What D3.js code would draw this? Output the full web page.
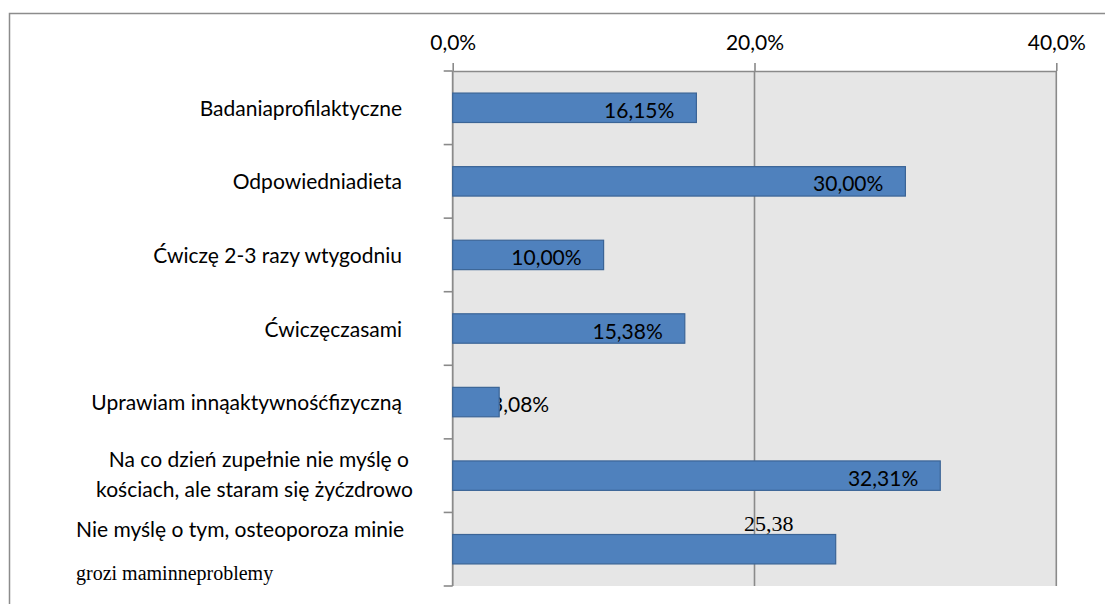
<!DOCTYPE html>
<html>
<head>
<meta charset="utf-8">
<script src="https://cdn.jsdelivr.net/npm/d3@7"></script>
<style>
  body { margin: 0; background: #fff; }
  svg { display: block; }
</style>
</head>
<body>
<svg id="chart" width="1105" height="604"></svg>
<script>
// Survey answers: what respondents do for their bone health (share of answers, %)
const categories = [
  "Badaniaprofilaktyczne",
  "Odpowiedniadieta",
  "Ćwiczę 2-3 razy wtygodniu",
  "Ćwiczęczasami",
  "Uprawiam innąaktywnośćfizyczną",
  "Na co dzień zupełnie nie myślę o\nkościach, ale staram się żyćzdrowo",
  "Nie myślę o tym, osteoporoza minie\ngrozi maminneproblemy"
];
const values = [16.15, 30.00, 10.00, 15.38, 3.08, 32.31, 25.38];
const axisTicks = [0, 20, 40];

const svg = d3.select("#chart");
const SANS = "Lato, 'Open Sans', sans-serif";
const SERIF = "'Liberation Serif', 'DejaVu Serif', serif";
const FS = 21;

const plot = { left: 452.7, right: 1056.3, top: 71, bottom: 586 };

const x = d3.scaleLinear().domain([0, 40]).range([plot.left, plot.right]);
const y = d3.scaleBand()
  .domain(d3.range(categories.length))
  .range([plot.top, plot.bottom])
  .paddingInner(0.6)
  .paddingOuter(0.3);

const comma = d3.formatLocale({ decimal: ",", thousands: " ", grouping: [3], currency: ["", " zł"] });
const pct2 = v => comma.format(".2f")(v) + "%";
const pct1 = v => comma.format(".1f")(v) + "%";

// outer chart frame (left and top edges fall inside the page)
svg.append("path")
  .attr("d", "M9.5,604 V13.5 H1105")
  .attr("fill", "none")
  .attr("stroke", "#8c8c8c")
  .attr("stroke-width", 1.5);

// plot background
svg.append("rect")
  .attr("x", plot.left).attr("y", plot.top)
  .attr("width", plot.right - plot.left)
  .attr("height", plot.bottom - plot.top)
  .attr("fill", "#e6e6e6");

// vertical gridlines
svg.append("g")
  .selectAll("line")
  .data(axisTicks.filter(d => d > 0))
  .join("line")
  .attr("x1", d => x(d)).attr("x2", d => x(d))
  .attr("y1", plot.top).attr("y2", plot.bottom)
  .attr("stroke", "#8a8a8a")
  .attr("stroke-width", 1.6);

// top value axis
const xAxis = svg.append("g")
  .attr("transform", `translate(0,${plot.top})`)
  .call(d3.axisTop(x).tickValues(axisTicks).tickFormat(pct1).tickSize(8).tickSizeOuter(0).tickPadding(13));
xAxis.select(".domain").attr("stroke", "#8a8a8a").attr("stroke-width", 1.6);
xAxis.selectAll(".tick line").attr("stroke", "#8a8a8a").attr("stroke-width", 1.6);
xAxis.selectAll(".tick text")
  .attr("font-family", SANS).attr("font-size", FS).attr("fill", "#000");

// left category axis with ticks at band boundaries
const boundaries = d3.range(categories.length + 1).map(i => plot.top + i * y.step());
const yAxis = svg.append("g");
yAxis.append("line")
  .attr("x1", plot.left).attr("x2", plot.left)
  .attr("y1", plot.top).attr("y2", plot.bottom)
  .attr("stroke", "#8a8a8a").attr("stroke-width", 1.8);
yAxis.selectAll("line.tick")
  .data(boundaries)
  .join("line")
  .attr("class", "tick")
  .attr("x1", plot.left - 9).attr("x2", plot.left)
  .attr("y1", d => d).attr("y2", d => d)
  .attr("stroke", "#8a8a8a").attr("stroke-width", 1.6);

const barW = v => x(v) - x(0);
const center = i => y(i) + y.bandwidth() / 2;

// labels that do not fit inside their bar sit beneath it, past the bar end
const labelLayer = svg.append("g");
const barLayer = svg.append("g");
const topLayer = svg.append("g");

barLayer.selectAll("rect")
  .data(values)
  .join("rect")
  .attr("x", x(0))
  .attr("y", (d, i) => y(i))
  .attr("width", d => barW(d))
  .attr("height", y.bandwidth())
  .attr("fill", "#4f81bd")
  .attr("stroke", "#3b6496")
  .attr("stroke-width", 1.2);

values.forEach((v, i) => {
  if (i === values.length - 1) {
    // last value is printed above its bar, without the percent sign
    topLayer.append("text")
      .attr("x", x(v) - 67)
      .attr("y", center(i) - 18)
      .attr("text-anchor", "middle")
      .attr("font-family", SERIF).attr("font-size", 22).attr("fill", "#000")
      .text(comma.format(".2f")(v));
  } else if (barW(v) < 70) {
    labelLayer.append("text")
      .attr("x", x(v) + 50)
      .attr("y", center(i) + 10)
      .attr("text-anchor", "end")
      .attr("font-family", SANS).attr("font-size", FS).attr("fill", "#000")
      .text(pct2(v));
  } else {
    topLayer.append("text")
      .attr("x", x(v) - 22)
      .attr("y", center(i) + 10)
      .attr("text-anchor", "end")
      .attr("font-family", SANS).attr("font-size", FS).attr("fill", "#000")
      .text(pct2(v));
  }
});

// category labels
const catLayer = svg.append("g");
categories.forEach((c, i) => {
  const lines = c.split("\n");
  const cy = center(i);
  if (i === categories.length - 1) {
    // long label: left aligned, spread above and below the bar
    catLayer.append("text")
      .attr("x", 76).attr("y", cy - 12)
      .attr("font-family", SANS).attr("font-size", FS).attr("fill", "#000")
      .text(lines[0]);
    catLayer.append("text")
      .attr("x", 76).attr("y", cy + 31)
      .attr("font-family", SERIF).attr("font-size", 20).attr("fill", "#000")
      .text(lines[1]);
  } else if (lines.length === 2) {
    catLayer.append("text")
      .attr("x", 409).attr("y", cy - 9)
      .attr("text-anchor", "end")
      .attr("font-family", SANS).attr("font-size", FS).attr("fill", "#000")
      .text(lines[0]);
    catLayer.append("text")
      .attr("x", 413).attr("y", cy + 21)
      .attr("text-anchor", "end")
      .attr("font-family", SANS).attr("font-size", FS).attr("fill", "#000")
      .text(lines[1]);
  } else {
    catLayer.append("text")
      .attr("x", 402).attr("y", cy + 8)
      .attr("text-anchor", "end")
      .attr("font-family", SANS).attr("font-size", FS).attr("fill", "#000")
      .text(lines[0]);
  }
});
</script>
</body>
</html>
